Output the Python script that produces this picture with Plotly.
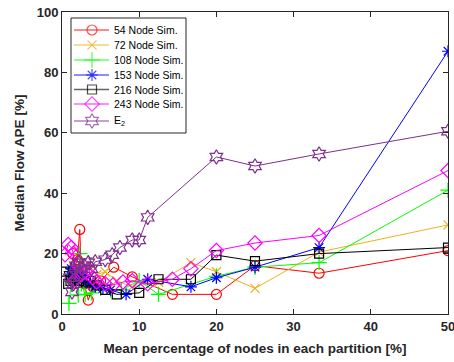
import plotly.graph_objects as go

# ---- data ----
red_x = [50, 33.3, 25, 20, 14.3, 9.1, 6.7, 5.0, 4.0, 3.4, 2.9, 2.5, 2.3, 2.0, 1.7, 1.4]
red_y = [21, 13.5, 16, 6.5, 6.5, 12.3, 15.5, 11, 9, 4.6, 10, 14, 28, 18, 16, 20]

orange_x = [50, 33.3, 25, 20, 16.7, 12.5, 9.1, 7.1, 5.6, 4.5, 3.8, 3.1, 2.6, 2.2, 1.8, 1.4]
orange_y = [29.5, 20.5, 8.5, 14, 17, 10.5, 9, 11, 14, 13, 15, 16, 14, 13, 15, 13]

green_x = [50, 33.3, 25, 20, 12.5, 10, 7.7, 6.3, 5.0, 3.8, 3.0, 2.5, 2.3, 2.1, 1.7, 1.4, 0.9]
green_y = [41, 17, 15.5, 12.5, 6.5, 11, 8, 8, 8.5, 7, 6.5, 10, 20, 6.3, 12, 15, 3.5]

blue_x = [50, 33.3, 25, 20, 16.7, 11.1, 8.3, 6.3, 5.3, 4.3, 3.6, 3.0, 2.6, 2.2, 1.8, 1.5, 1.2, 1.0]
blue_y = [87, 22, 15.5, 12, 9, 11.5, 6.5, 8, 8.5, 9, 10, 11, 12, 13, 11, 12, 15, 14]

black_x = [50, 33.3, 25, 20, 16.7, 12.5, 10, 7.1, 5.6, 4.5, 3.7, 3.1, 2.6, 2.2, 1.8, 1.4, 1.1, 0.8, 0.3]
black_y = [22, 20, 17.5, 19.5, 11.5, 11.5, 7, 6.5, 8, 9.5, 11, 10.5, 12, 11, 13, 12, 11, 10, 14]

mag_x = [50, 33.3, 25, 20, 16.7, 14.3, 11.1, 9.1, 7.9, 6.6, 5.6, 4.5, 4.0, 3.4, 3.2, 2.5, 2.1, 1.7, 1.5, 1.2, 0.8, 0.4]
mag_y = [47.5, 26, 23.5, 21, 15, 11.5, 10, 11, 10.6, 9.6, 10, 10.6, 12, 15, 13.6, 13, 16, 11.3, 20, 22, 23, 19.6]

e2_x = [50, 33.3, 25, 20, 11.1, 10, 9.1, 7.5, 6.5, 5.6, 4.3, 3.8, 3.4, 2.9, 2.5, 2.2, 2.0, 1.8, 1.5, 1.3, 1.0]
e2_y = [60.5, 53, 49, 52, 32, 24.5, 24.5, 22, 19.6, 18, 17.3, 15, 17, 16, 15, 17, 13, 16, 10, 7.3, 12]

names = ["54 Node Sim.", "72 Node Sim.", "108 Node Sim.", "153 Node Sim.",
         "216 Node Sim.", "243 Node Sim.", "E<sub>2</sub>"]
xs_all = [red_x, orange_x, green_x, blue_x, black_x, mag_x, e2_x]
ys_all = [red_y, orange_y, green_y, blue_y, black_y, mag_y, e2_y]
colors = ["#FF0000", "#EDB120", "#00FF00", "#0000FF", "#000000", "#FF00FF", "#7E2F8E"]
symbols = ["circle-open", "x-thin-open", "cross-thin-open", "asterisk-open",
           "square-open", "diamond-open", "hexagram-open"]
sizes = [10, 9, 11, 10, 9, 11, 11]

fig = go.Figure()
for name, xs, ys, col, sym, sz in zip(names, xs_all, ys_all, colors, symbols, sizes):
    fig.add_trace(go.Scatter(
        x=xs, y=ys, name=name, mode="lines+markers", showlegend=False,
        line=dict(color=col, width=1),
        marker=dict(symbol=sym, size=sz, color=col, line=dict(color=col, width=1.2)),
    ))

# ---- custom legend on an overlay axis measured in pixels ----
L_left, L_right, L_top, L_bottom = 71, 186, 18, 133
row_y = [30, 45, 60, 75, 89.5, 104, 121]
line_x0, line_x1, mark_x, text_x = 74, 109, 92, 112

fig.add_shape(type="rect", xref="x2", yref="y2", x0=L_left, x1=L_right, y0=L_top, y1=L_bottom,
              line=dict(color="#262626", width=1), fillcolor="white", layer="below")
for i, (name, col, sym, sz) in enumerate(zip(names, colors, symbols, sizes)):
    fig.add_shape(type="line", xref="x2", yref="y2", x0=line_x0, x1=line_x1,
                  y0=row_y[i], y1=row_y[i], line=dict(color=col, width=1.5), opacity=0.6,
                  layer="below")
    fig.add_annotation(xref="x2", yref="y2", x=text_x, y=row_y[i], text=name,
                       showarrow=False, xanchor="left", yanchor="middle",
                       font=dict(size=10.5, color="black"))
legend_marks_x = [mark_x] * len(names)
fig.add_trace(go.Scatter(
    x=legend_marks_x, y=row_y, xaxis="x2", yaxis="y2", mode="markers", showlegend=False,
    hoverinfo="skip",
    marker=dict(symbol=symbols, size=sizes, color=colors, line=dict(color=colors, width=1.2)),
))

axis_common = dict(
    showgrid=False, zeroline=False, showline=True, linecolor="#262626", linewidth=1,
    mirror="ticks", ticks="inside", ticklen=5, tickcolor="#262626",
    tickfont=dict(family="Liberation Sans, Arial", size=13, color="#262626"),
    ticklabeloverflow="allow", automargin=False,
)

fig.update_layout(
    width=454, height=362,
    margin=dict(l=62, r=6, t=12, b=48),
    paper_bgcolor="white", plot_bgcolor="white",
    font=dict(family="Liberation Sans, Arial", color="#262626"),
    xaxis=dict(range=[0, 50], tickvals=[0, 10, 20, 30, 40, 50],
               ticktext=["<b>0</b>", "<b>10</b>", "<b>20</b>", "<b>30</b>", "<b>40</b>", "<b>50</b>"],
               title=dict(text="<b>Mean percentage of nodes in each partition [%]</b>",
                          font=dict(size=13.5), standoff=10),
               **axis_common),
    yaxis=dict(range=[0, 100], tickvals=[0, 20, 40, 60, 80, 100],
               ticktext=["<b>0</b>", "<b>20</b>", "<b>40</b>", "<b>60</b>", "<b>80</b>", "<b>100</b>"],
               title=dict(text="<b>Median Flow APE [%]</b>", font=dict(size=13.5), standoff=8),
               **axis_common),
    xaxis2=dict(overlaying="x", range=[62, 448], visible=False, fixedrange=True),
    yaxis2=dict(overlaying="y", range=[314, 12], visible=False, fixedrange=True),
    showlegend=False,
)

fig.write_html("out.html")
